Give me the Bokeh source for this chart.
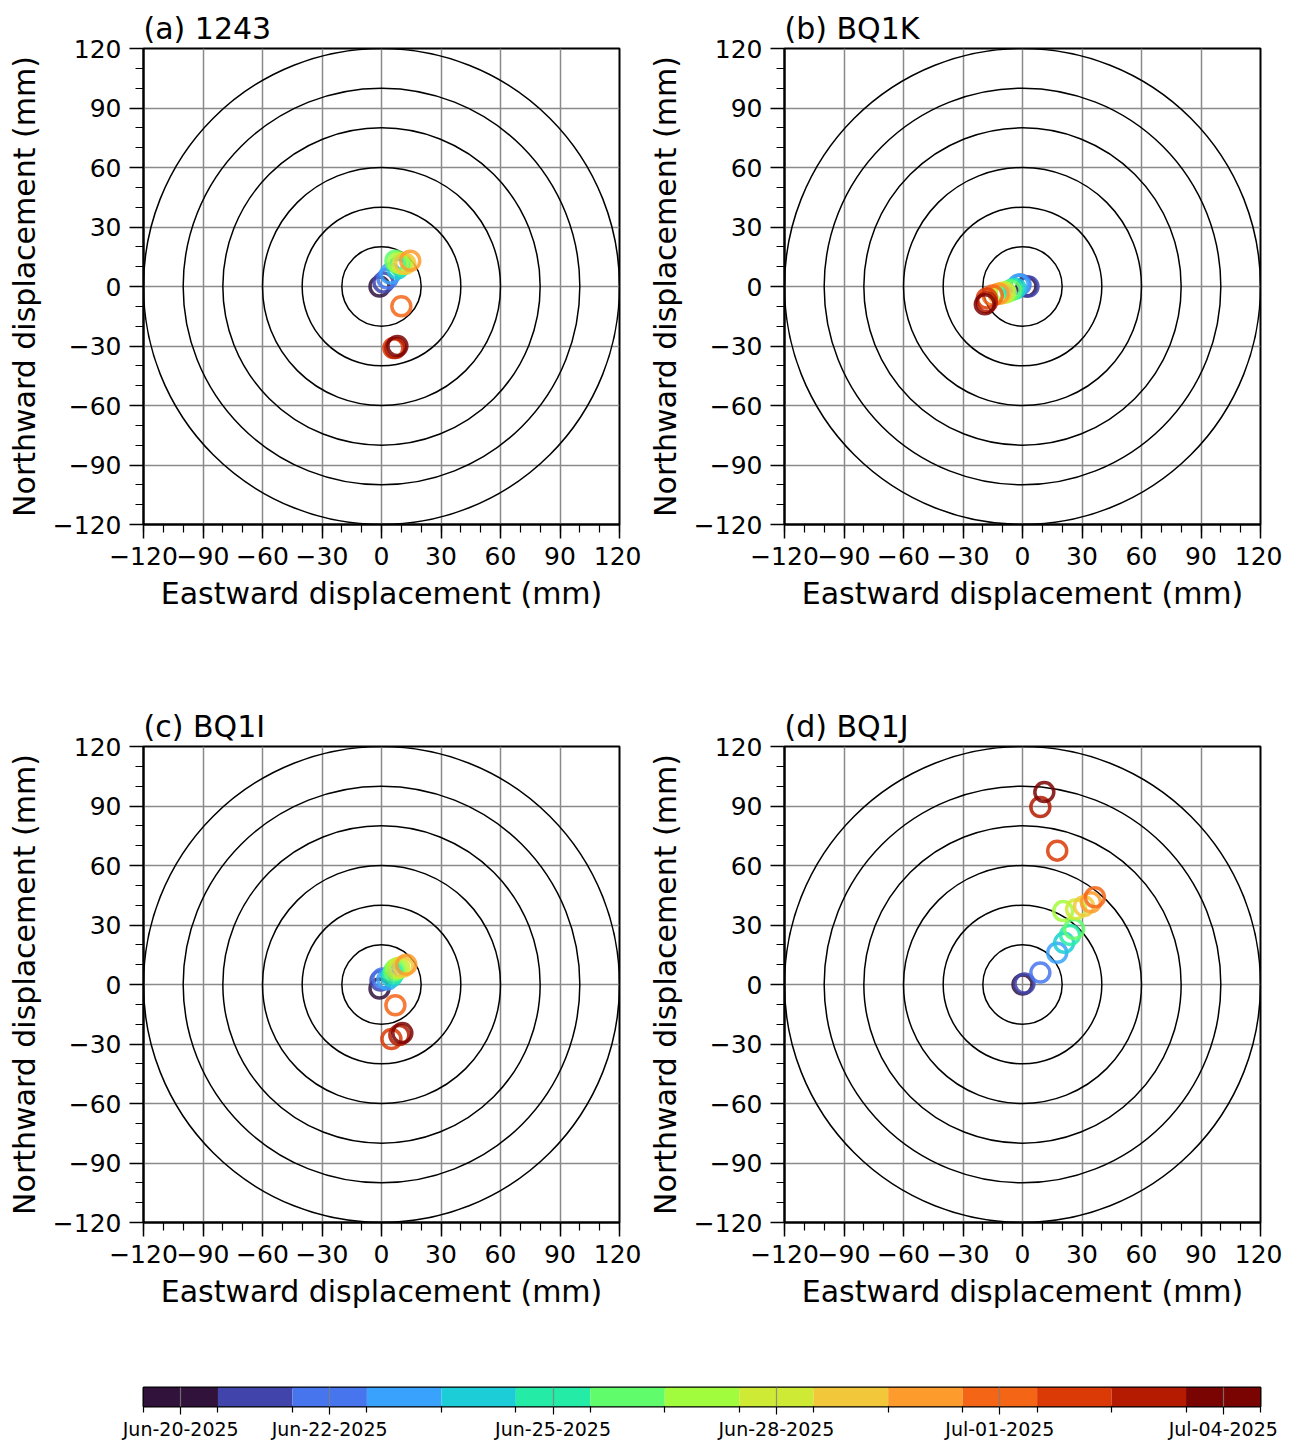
import pandas as pd
from bokeh.plotting import figure
from bokeh.layouts import column, row
from bokeh.models import FixedTicker, Range1d, DatetimeTickFormatter, ColumnDataSource
from bokeh.palettes import Turbo256, linear_palette
from bokeh.embed import file_html
from bokeh.resources import INLINE

# ---------------- data ----------------
DATES = pd.date_range("2025-06-20", "2025-07-04", freq="D")  # one colour bin per day
STATIONS = ["1243", "BQ1K", "BQ1I", "BQ1J"]
LETTERS = ["a", "b", "c", "d"]

east_1243 = [-1, 1, 3, 4.5, 8, 9.5, 7, 8.5, 10.5, 12, 14.5, 10, 6, 7, 8]
north_1243 = [0, 2, 4, 6.5, 9, 10.5, 13, 12, 11.5, 11.5, 13, -10, -31, -31, -30]

east_bq1k = [2, 3, -1, -2, -3.5, -5, -6, -8.5, -9.5, -11, -12, -15, -18, -18, -19]
north_bq1k = [0, 0, 1, 1, -1, -1.5, -2, -3, -3, -3.5, -3.7, -4.5, -6, -8, -9]

east_bq1i = [-1, -0.5, 0.5, 3, 5, 6, 6.5, 7.5, 9, 11, 12.5, 7, 5, 9, 10.5]
north_bq1i = [-2, 2, 3, 2.5, 4, 5.5, 7, 8, 8.5, 9, 10, -10.5, -27.5, -25.5, -24.5]

east_bq1j = [0, 1, 9, 17.5, 21, 24, 26, 20.5, 27, 31, 34.5, 36.5, 17.5, 9, 11]
north_bq1j = [0, 0.5, 6, 16, 21, 25, 28, 37, 38, 39.5, 41.5, 44, 67.5, 89.5, 97]

EAST = [east_1243, east_bq1k, east_bq1i, east_bq1j]
NORTH = [north_1243, north_bq1k, north_bq1i, north_bq1j]

RING_RADII = [20, 40, 60, 80, 100, 120]
AXIS_TICKS = [-120, -90, -60, -30, 0, 30, 60, 90, 120]
AXIS_LABELS = ["\u2212120", "\u221290", "\u221260", "\u221230", "0", "30", "60", "90", "120"]
MINOR_TICKS = list(range(-120, 121, 10))
CB_TICK_DATES = ["2025-06-20", "2025-06-22", "2025-06-25", "2025-06-28", "2025-07-01", "2025-07-04"]

COLORS = linear_palette(Turbo256, len(DATES))
FONT = "DejaVu Sans"


def style_axes(p):
    for ax in (p.xaxis[0], p.yaxis[0]):
        ax.ticker = FixedTicker(ticks=AXIS_TICKS, minor_ticks=MINOR_TICKS)
        ax.major_label_overrides = {t: l for t, l in zip(AXIS_TICKS, AXIS_LABELS)}
        ax.axis_line_color = "black"
        ax.axis_line_width = 2
        ax.major_tick_line_color = "black"
        ax.major_tick_line_width = 1.5
        ax.major_tick_out = 14
        ax.major_tick_in = 0
        ax.minor_tick_line_color = "black"
        ax.minor_tick_line_width = 1.2
        ax.minor_tick_out = 8
        ax.minor_tick_in = 0
        ax.major_label_text_font = FONT
        ax.major_label_text_font_size = "25px"
        ax.major_label_text_color = "black"
        ax.major_label_standoff = 8
        ax.axis_label_text_font = FONT
        ax.axis_label_text_font_size = "30px"
        ax.axis_label_text_font_style = "normal"
        ax.axis_label_text_color = "black"
        ax.axis_label_standoff = 8
    p.xaxis.axis_label = "Eastward displacement (mm)"
    p.yaxis.axis_label = "Northward displacement (mm)"
    for g in (p.xgrid[0], p.ygrid[0]):
        g.ticker = FixedTicker(ticks=AXIS_TICKS)
        g.grid_line_color = "#8a8a8a"
        g.grid_line_width = 1.5


def make_panel(k, bottom_border):
    p = figure(width=641, height=48 + 476 + bottom_border,
               x_range=Range1d(-120, 120), y_range=Range1d(-120, 120),
               output_backend="svg", toolbar_location=None,
               min_border_left=143, min_border_right=22,
               min_border_top=48, min_border_bottom=bottom_border,
               title=f"({LETTERS[k]}) {STATIONS[k]}")
    p.title.text_font = FONT
    p.title.text_font_size = "30px"
    p.title.text_font_style = "normal"
    p.title.text_color = "black"
    p.title.align = "left"
    p.title.standoff = 6
    p.title.offset = 0
    p.outline_line_color = "black"
    p.outline_line_width = 2
    p.background_fill_color = "white"
    p.border_fill_color = "white"
    style_axes(p)

    p.circle(x=[0] * len(RING_RADII), y=[0] * len(RING_RADII), radius=RING_RADII,
             fill_color=None, line_color="black", line_width=1.5)

    src = ColumnDataSource(dict(x=EAST[k], y=NORTH[k], color=list(COLORS), date=list(DATES)))
    p.scatter("x", "y", source=src, marker="circle", size=19, fill_color=None,
              line_color="color", line_width=3.5, line_alpha=0.85)
    return p


pa = make_panel(0, 174)
pb = make_panel(1, 174)
pc = make_panel(2, 120)
pd_ = make_panel(3, 120)

# ---------------- colour bar ----------------
half_day = pd.Timedelta(hours=12)
cb_src = ColumnDataSource(dict(left=list(DATES - half_day), right=list(DATES + half_day),
                               color=list(COLORS)))
cb = figure(width=1298, height=101, x_axis_type="datetime",
            x_range=Range1d(DATES[0] - half_day, DATES[-1] + half_day),
            y_range=Range1d(0, 1), output_backend="svg", toolbar_location=None,
            min_border_left=143, min_border_right=38, min_border_top=45, min_border_bottom=37)
cb.quad(left="left", right="right", bottom=0, top=1, source=cb_src,
        fill_color="color", line_color=None)
cb.yaxis.visible = False
cb.ygrid.visible = False
cb.outline_line_color = "black"
cb.outline_line_width = 2

to_ms = lambda ts: pd.Timestamp(ts).value / 1e6
major_ms = [to_ms(d) for d in CB_TICK_DATES]
minor_ms = [to_ms(d - half_day) for d in DATES] + [to_ms(DATES[-1] + half_day)]
xa = cb.xaxis[0]
xa.ticker = FixedTicker(ticks=major_ms, minor_ticks=minor_ms)
fmt = "%b-%d-%Y"
xa.formatter = DatetimeTickFormatter(days=fmt, months=fmt, years=fmt, hours=fmt,
                                     hourmin=fmt, minutes=fmt, minsec=fmt, seconds=fmt,
                                     milliseconds=fmt, microseconds=fmt)
xa.axis_line_color = None
xa.major_tick_line_color = "black"
xa.major_tick_line_width = 1.2
xa.major_tick_out = 8
xa.major_tick_in = 0
xa.minor_tick_line_color = "black"
xa.minor_tick_line_width = 1.2
xa.minor_tick_out = 6
xa.minor_tick_in = 0
xa.major_label_text_font = FONT
xa.major_label_text_font_size = "19px"
xa.major_label_text_color = "black"
xa.major_label_standoff = 3
cb.xgrid.ticker = FixedTicker(ticks=major_ms)
cb.xgrid.grid_line_color = "#808080"
cb.xgrid.grid_line_width = 1.2
cb.xgrid.grid_line_alpha = 0.8
cb.xgrid.level = "overlay"

layout = column(row(pa, pb), row(pc, pd_), cb)

open("out.html", "w").write(file_html(layout, INLINE))
